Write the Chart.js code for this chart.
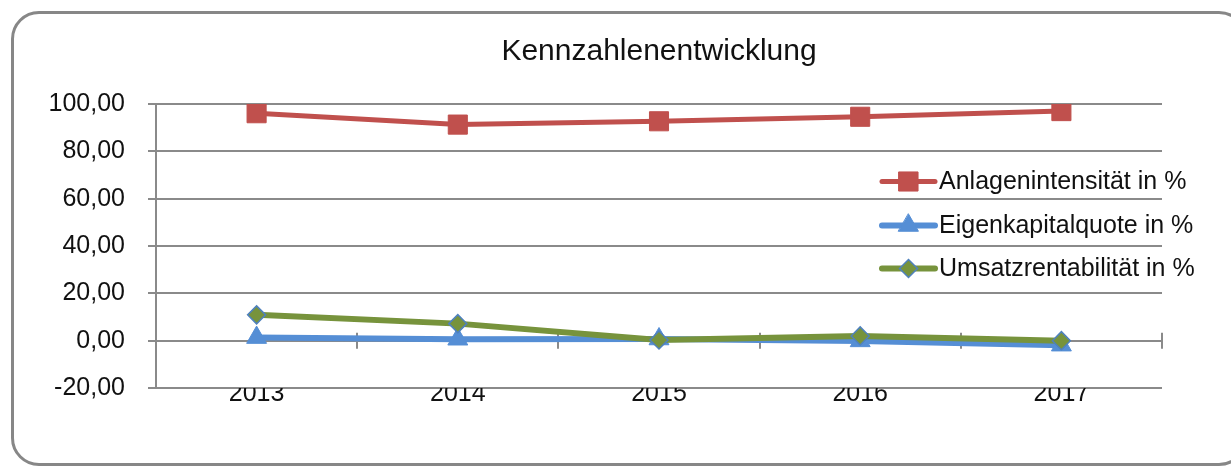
<!DOCTYPE html>
<html>
<head>
<meta charset="utf-8">
<script src="https://cdn.jsdelivr.net/npm/chart.js@4.4.1/dist/chart.umd.min.js"></script>
<style>
  html, body { margin: 0; padding: 0; background: #fff; }
  #wrap { position: relative; width: 1231px; height: 466px; overflow: hidden; }
  #frame {
    position: absolute; left: 11px; top: 11px; width: 1236px; height: 455px;
    box-sizing: border-box; border: 3px solid #878787; border-radius: 28px;
  }
  #chart { position: absolute; left: 0; top: 0; }
</style>
</head>
<body>
<div id="wrap">
  <div id="frame"></div>
  <canvas id="chart" width="1231" height="466"></canvas>
</div>
<script>
// ── Data ────────────────────────────────────────────
const years        = ['2013', '2014', '2015', '2016', '2017'];
const anlagen      = [96.1, 91.3, 92.7, 94.6, 97.0];
const eigenkapital = [1.3, 0.6, 0.7, -0.1, -1.9];
const umsatz       = [10.9, 7.2, 0.3, 2.0, 0.0];

const seriesNames = ['Anlagenintensität in %', 'Eigenkapitalquote in %', 'Umsatzrentabilität in %'];
const Y_MIN = -20, Y_MAX = 100, Y_STEP = 20;

// ── Styles ──────────────────────────────────────────
const FONT  = "'Liberation Sans', Arial, sans-serif";
const GRID  = '#8a8a8a';
const RED   = '#C0504D';
const BLUE  = '#558ED5';
const GREEN = '#77933C';

// tick marks on the zero axis between categories
const zeroTicks = {
  id: 'zeroTicks',
  beforeDatasetsDraw(chart) {
    const x = chart.scales.x, y = chart.scales.y;
    const ctx = chart.ctx;
    const y0 = y.getPixelForValue(0);
    const step = x.width / years.length;
    ctx.save();
    ctx.strokeStyle = GRID;
    ctx.lineWidth = 2;
    for (let i = 1; i <= years.length; i++) {
      const px = Math.round(x.left + i * step);
      ctx.beginPath();
      ctx.moveTo(px, y0 - 8);
      ctx.lineTo(px, y0 + 8);
      ctx.stroke();
    }
    ctx.restore();
  }
};

// legend drawn inside the plot, right side, no box
const innerLegend = {
  id: 'innerLegend',
  afterDraw(chart) {
    const ctx = chart.ctx;
    const area = chart.chartArea;
    const x0 = area.right - 280, x1 = x0 + 53, tx = x1 + 4;
    const rows = [181.5, 225.5, 268.5];
    ctx.save();
    chart.data.datasets.forEach((ds, i) => {
      const yy = rows[i];
      ctx.strokeStyle = ds.borderColor;
      ctx.lineWidth = ds.borderWidth;
      ctx.lineCap = 'round';
      ctx.beginPath();
      ctx.moveTo(x0, yy);
      ctx.lineTo(x1, yy);
      ctx.stroke();
      ctx.fillStyle = ds.pointBackgroundColor;
      ctx.strokeStyle = ds.pointBorderColor;
      ctx.lineWidth = ds.pointBorderWidth;
      Chart.helpers.drawPoint(ctx, {
        pointStyle: ds.pointStyle, radius: ds.pointRadius, rotation: 0, borderWidth: ds.pointBorderWidth
      }, (x0 + x1) / 2, yy);
      ctx.fillStyle = '#111';
      ctx.font = '25px ' + FONT;
      ctx.textBaseline = 'middle';
      ctx.textAlign = 'left';
      ctx.fillText(ds.label, tx, yy + 1);
    });
    ctx.restore();
  }
};

new Chart(document.getElementById('chart'), {
  type: 'line',
  data: {
    labels: years,
    datasets: [
      {
        label: seriesNames[0], data: anlagen, order: 3,
        borderColor: RED, borderWidth: 5, pointStyle: 'rect', pointRadius: 13.5,
        pointBackgroundColor: RED, pointBorderColor: RED, pointBorderWidth: 1,
      },
      {
        label: seriesNames[1], data: eigenkapital, order: 2,
        borderColor: BLUE, borderWidth: 6, pointStyle: 'triangle', pointRadius: 11.5,
        pointBackgroundColor: BLUE, pointBorderColor: BLUE, pointBorderWidth: 1,
      },
      {
        label: seriesNames[2], data: umsatz, order: 1,
        borderColor: GREEN, borderWidth: 6, pointStyle: 'rectRot', pointRadius: 9,
        pointBackgroundColor: GREEN, pointBorderColor: '#4F81BD', pointBorderWidth: 1.5,
      },
    ],
  },
  options: {
    responsive: false,
    animation: false,
    events: [],
    layout: { padding: { top: 0, right: 69, bottom: 0, left: 0 } },
    plugins: {
      legend: { display: false },
      tooltip: { enabled: false },
      title: {
        display: true,
        text: 'Kennzahlenentwicklung',
        fullSize: false,
        color: '#111',
        font: { family: FONT, size: 30, weight: 'normal' },
        padding: { top: 34, bottom: 34 },
      },
    },
    scales: {
      x: {
        offset: true,
        grid: { display: false, drawTicks: false },
        border: { display: false },
        ticks: { color: '#111', font: { family: FONT, size: 25 }, padding: -9, maxRotation: 0 },
        afterFit(s) { s.height = 78; },
      },
      y: {
        min: Y_MIN, max: Y_MAX,
        grid: { color: GRID, lineWidth: 2, tickLength: 8, drawTicks: true },
        border: { display: true, color: GRID, width: 2 },
        ticks: {
          stepSize: Y_STEP, color: '#111', padding: 23,
          font: { family: FONT, size: 25 },
          callback: v => v.toFixed(2).replace('.', ','),
        },
        afterFit(s) { s.width = 156; },
      },
    },
  },
  plugins: [zeroTicks, innerLegend],
});
</script>
</body>
</html>
